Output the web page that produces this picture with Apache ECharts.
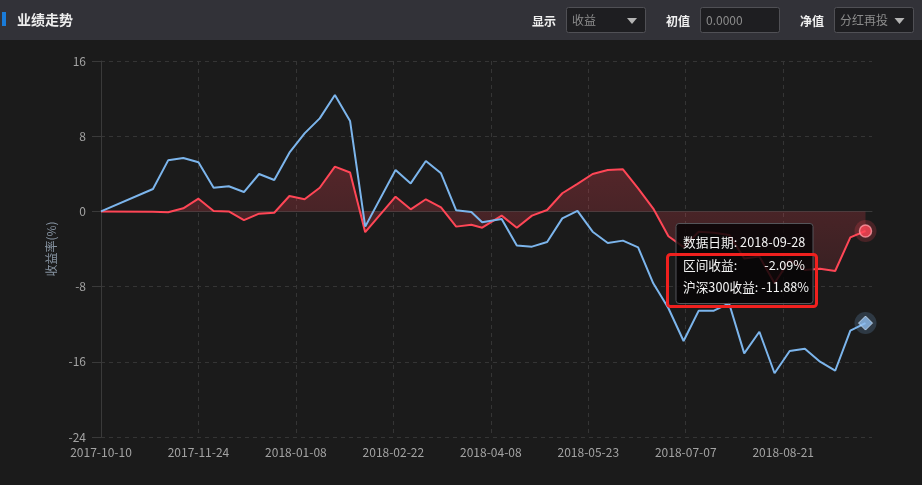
<!DOCTYPE html>
<html><head><meta charset="utf-8">
<script src="https://cdn.jsdelivr.net/npm/echarts@6/dist/echarts.min.js"></script>
<style>html,body{margin:0;padding:0;background:#1b1b1b;}#c{width:922px;height:485px;}</style>
</head><body><div id="c"></div>
<script>
// ---- data ----
const dates = ['2017-10-10','2017-11-03','2017-11-10','2017-11-17','2017-11-24','2017-12-01','2017-12-08','2017-12-15','2017-12-22','2017-12-29',
  '2018-01-05','2018-01-12','2018-01-19','2018-01-26','2018-02-02','2018-02-09','2018-02-23','2018-03-02','2018-03-09','2018-03-16',
  '2018-03-23','2018-03-30','2018-04-04','2018-04-13','2018-04-20','2018-04-27','2018-05-04','2018-05-11','2018-05-18','2018-05-25',
  '2018-06-01','2018-06-08','2018-06-15','2018-06-22','2018-06-29','2018-07-06','2018-07-13','2018-07-20','2018-07-27','2018-08-03',
  '2018-08-10','2018-08-17','2018-08-24','2018-08-31','2018-09-07','2018-09-14','2018-09-21','2018-09-28'];
const fundReturn = [0,-0.05,-0.1,0.33,1.35,0.04,0.0,-0.92,-0.24,-0.14,
  1.64,1.29,2.52,4.76,4.14,-2.21,1.57,0.22,1.29,0.42,
  -1.62,-1.43,-1.73,-0.45,-1.73,-0.45,0.15,1.93,2.93,3.98,
  4.4,4.48,2.45,0.3,-2.65,-3.8,-2.16,-2.26,-2.5,-5.0,
  -4.8,-7.65,-5.17,-6.23,-6.1,-6.34,-2.76,-2.09];
const hs300Return = [0,2.38,5.43,5.68,5.22,2.52,2.67,2.06,3.98,3.34,
  6.25,8.3,9.9,12.38,9.62,-1.62,4.4,2.98,5.36,4.05,
  0.11,-0.06,-1.16,-0.81,-3.62,-3.75,-3.26,-0.74,0.06,-2.16,
  -3.36,-3.11,-3.82,-7.65,-10.3,-13.79,-10.56,-10.56,-9.78,-15.1,
  -12.8,-17.22,-14.85,-14.6,-15.99,-16.95,-12.69,-11.88];
const seriesNames = ['区间收益','沪深300收益'];
const yMin = -24, yMax = 16, yStep = 8;
const xStepDays = 45, xMaxDays = 356;
const tipDate = '2018-09-28';

// ---- build ----
const DAY = 86400000;
const t0 = Date.parse(dates[0]);
const dayIdx = dates.map(d => (Date.parse(d) - t0) / DAY);
const fmt = d => { const dt = new Date(t0 + d * DAY); return dt.toISOString().slice(0, 10); };
const fundData = dayIdx.map((d, i) => [d, fundReturn[i]]);
const hsData = dayIdx.map((d, i) => [d, hs300Return[i]]);
const last = dates.length - 1;
const FF = 'Noto Sans CJK SC';
const RED = '#ff4656', BLUE = '#7cb5ec';
const TIPFONT = '12.7px "' + FF + '"';

const chart = echarts.init(document.getElementById('c'), null, {renderer: 'canvas'});
const txt = (text, x, y, opt, z) => ({type: 'text', x: x, y: y, z: z || 100,
  style: Object.assign({text: text, fill: '#f0f0f0', font: '12px "' + FF + '"', textVerticalAlign: 'middle'}, opt || {})});
const box = (x, y, w, h) => ({type: 'rect', z: 99, shape: {x: x, y: y, width: w, height: h, r: 2},
  style: {fill: '#1e1e21', stroke: '#505055', lineWidth: 1}});
const tri = (x, y) => ({type: 'polygon', z: 100, shape: {points: [[x, y], [x + 10, y], [x + 5, y + 6]]}, style: {fill: '#b4b4b4'}});

chart.setOption({
  backgroundColor: '#1b1b1b',
  animation: false,
  grid: {left: 101, right: 50, top: 61, bottom: 48},
  xAxis: {
    type: 'value', min: 0, max: xMaxDays, interval: xStepDays,
    axisLine: {show: true, lineStyle: {color: '#3a3a3a'}},
    axisTick: {show: false},
    axisLabel: {color: '#a3a3a3', fontFamily: FF, fontSize: 12, margin: 9, showMaxLabel: false,
      formatter: v => fmt(v)},
    splitLine: {show: true, showMinLine: false, showMaxLine: false, lineStyle: {color: '#353535', type: [4, 4]}}
  },
  yAxis: {
    type: 'value', min: yMin, max: yMax, interval: yStep,
    name: '收益率(%)', nameLocation: 'middle', nameGap: 42, nameRotate: 90,
    nameTextStyle: {color: '#8794a2', fontFamily: FF, fontSize: 12},
    axisLine: {show: true, lineStyle: {color: '#3a3a3a'}},
    axisTick: {show: true, length: 9, lineStyle: {color: '#3a3a3a'}},
    axisLabel: {color: '#a3a3a3', fontFamily: FF, fontSize: 12, margin: 15},
    splitLine: {show: true, lineStyle: {color: '#353535', type: [4, 4]}}
  },
  series: [
    {name: seriesNames[0], type: 'line', data: fundData, symbol: 'none', z: 2,
      lineStyle: {color: RED, width: 2},
      areaStyle: {origin: 0, color: new echarts.graphic.LinearGradient(0, 0, 0, 1, [
        {offset: 0, color: 'rgba(255,70,86,0.36)'}, {offset: 1, color: 'rgba(255,70,86,0.17)'}])}},
    {name: seriesNames[1], type: 'line', data: hsData, symbol: 'none', z: 3,
      lineStyle: {color: BLUE, width: 2}},
    {type: 'scatter', z: 5, silent: true, data: [fundData[last]], symbol: 'circle', symbolSize: 22,
      itemStyle: {color: 'rgba(255,70,86,0.25)'}},
    {type: 'scatter', z: 6, silent: true, data: [fundData[last]], symbol: 'circle', symbolSize: 12,
      itemStyle: {color: RED, borderColor: '#ff9aa4', borderWidth: 1.5}},
    {type: 'scatter', z: 5, silent: true, data: [hsData[last]], symbol: 'circle', symbolSize: 22,
      itemStyle: {color: 'rgba(124,181,236,0.25)'}},
    {type: 'scatter', z: 6, silent: true, data: [hsData[last]], symbol: 'diamond', symbolSize: 14,
      itemStyle: {color: '#8fbdee', borderColor: '#cfe3f8', borderWidth: 1}}
  ],
  graphic: [
    {type: 'rect', z: 98, shape: {x: 0, y: 0, width: 922, height: 40}, style: {fill: '#323238'}},
    {type: 'rect', z: 99, shape: {x: 2, y: 12, width: 4, height: 14}, style: {fill: '#1a7bd8'}},
    txt('业绩走势', 17, 20, {font: 'bold 14px "' + FF + '"', fill: '#eeeeee'}),
    txt('显示', 532, 21, {font: 'bold 12px "' + FF + '"'}),
    box(566.5, 7.5, 79, 25), txt('收益', 572, 20.5, {fill: '#8c8c8c'}), tri(627, 18),
    txt('初值', 666, 21, {font: 'bold 12px "' + FF + '"'}),
    box(700.5, 7.5, 79, 25), txt('0.0000', 706, 20.5, {fill: '#8c8c8c'}),
    txt('净值', 800, 21, {font: 'bold 12px "' + FF + '"'}),
    box(834.5, 7.5, 79, 25), txt('分红再投', 840, 20.5, {fill: '#8c8c8c'}), tri(894.5, 18),
    // tooltip
    {type: 'rect', z: 110, shape: {x: 676, y: 223.5, width: 137, height: 80, r: 3},
      style: {fill: 'rgba(6,4,5,0.84)', stroke: '#55555a', lineWidth: 1}},
    txt('数据日期: ' + tipDate, 683, 242.5, {fill: '#f4f4f4', font: TIPFONT}, 115),
    txt(seriesNames[0] + ':', 683, 265, {fill: '#f4f4f4', font: TIPFONT}, 115),
    txt(fundReturn[last].toFixed(2) + '%', 805, 265, {fill: '#f4f4f4', textAlign: 'right', font: TIPFONT}, 115),
    txt(seriesNames[1] + ': ' + hs300Return[last].toFixed(2) + '%', 683, 287, {fill: '#f4f4f4', font: TIPFONT}, 115),
    {type: 'rect', z: 120, shape: {x: 667.5, y: 254.5, width: 149, height: 52, r: 3},
      style: {fill: 'none', stroke: '#f0201e', lineWidth: 3}}
  ]
});
</script></body></html>
